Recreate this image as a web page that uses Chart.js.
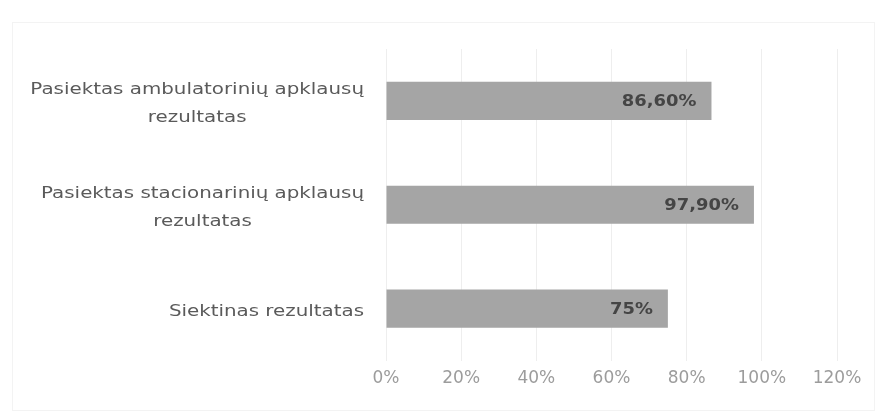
<!DOCTYPE html>
<html>
<head>
<meta charset="utf-8">
<script src="https://cdn.jsdelivr.net/npm/chart.js@4/dist/chart.umd.min.js"></script>
<style>
  html, body { margin: 0; padding: 0; background: #fff; }
  #wrap { width: 881px; height: 417px; position: relative; }
  #frame { position: absolute; left: 12px; top: 22px; right: 6px; bottom: 6px; border: 1px solid #f3f3f3; }
  canvas { position: absolute; left: 0; top: 0; }
</style>
</head>
<body>
<div id="wrap">
  <div id="frame"></div>
  <canvas id="myChart" width="881" height="417"></canvas>
</div>
<script>
const categories = [
    ['Pasiektas ambulatorinių apklausų', 'rezultatas'],
    ['Pasiektas stacionarinių apklausų', 'rezultatas'],
    ['Siektinas rezultatas']
];
const values = [86.6, 97.9, 75];
const valueLabels = ['86,60%', '97,90%', '75%'];
const tickLabels = ['0%', '20%', '40%', '60%', '80%', '100%', '120%'];

// the picture is a bit stretched sideways, so text is drawn wider
function wideText(ctx, text, x, y, sx) {
    ctx.save();
    ctx.translate(x, y);
    ctx.scale(sx, 1);
    ctx.fillText(text, 0, 0);
    ctx.restore();
}

// labels inside the bar end
const barLabels = {
    id: 'barLabels',
    afterDatasetsDraw(chart) {
        const ctx = chart.ctx;
        const meta = chart.getDatasetMeta(0);
        ctx.save();
        ctx.font = 'bold 16px "DejaVu Sans"';
        ctx.fillStyle = '#454545';
        ctx.textAlign = 'right';
        ctx.textBaseline = 'middle';
        meta.data.forEach(function (bar, i) {
            wideText(ctx, valueLabels[i], bar.x - 15, bar.y + 1, 1.12);
        });
        ctx.restore();
    }
};

// category labels: block right-aligned, lines centred
const catLabels = {
    id: 'catLabels',
    afterDraw(chart) {
        const ctx = chart.ctx;
        const yScale = chart.scales.y;
        const lineH = 28;
        const sx = 1.24;
        ctx.save();
        ctx.font = '16px "DejaVu Sans"';
        ctx.fillStyle = '#5a5a5a';
        ctx.textAlign = 'center';
        ctx.textBaseline = 'middle';
        categories.forEach(function (lines, i) {
            const y = yScale.getPixelForTick(i);
            const maxW = Math.max.apply(null, lines.map(l => ctx.measureText(l).width)) * sx;
            const cx = 364 - maxW / 2;
            const top = y - (lines.length - 1) * lineH / 2 + 3;
            lines.forEach(function (l, j) {
                wideText(ctx, l, cx, top + j * lineH, sx);
            });
        });
        ctx.restore();
    }
};

new Chart(document.getElementById('myChart'), {
    type: 'bar',
    data: {
        labels: categories,
        datasets: [{
            data: values,
            backgroundColor: '#a5a5a5',
            borderWidth: 0,
            categoryPercentage: 1,
            barPercentage: 0.367
        }]
    },
    options: {
        indexAxis: 'y',
        responsive: false,
        animation: false,
        layout: { padding: { left: 0, right: 44, top: 49, bottom: 20 } },
        plugins: {
            legend: { display: false },
            tooltip: { enabled: false }
        },
        scales: {
            x: {
                min: 0,
                max: 120,
                ticks: {
                    stepSize: 20,
                    padding: 8,
                    color: '#9c9c9c',
                    font: { family: 'DejaVu Sans', size: 17 },
                    callback: function (v, i) { return tickLabels[i]; }
                },
                grid: { color: '#eeeeee', drawTicks: false },
                border: { display: false }
            },
            y: {
                ticks: { display: false },
                grid: { display: false },
                border: { display: false },
                afterFit: function (s) { s.width = 386; }
            }
        }
    },
    plugins: [barLabels, catLabels]
});
</script>
</body>
</html>
